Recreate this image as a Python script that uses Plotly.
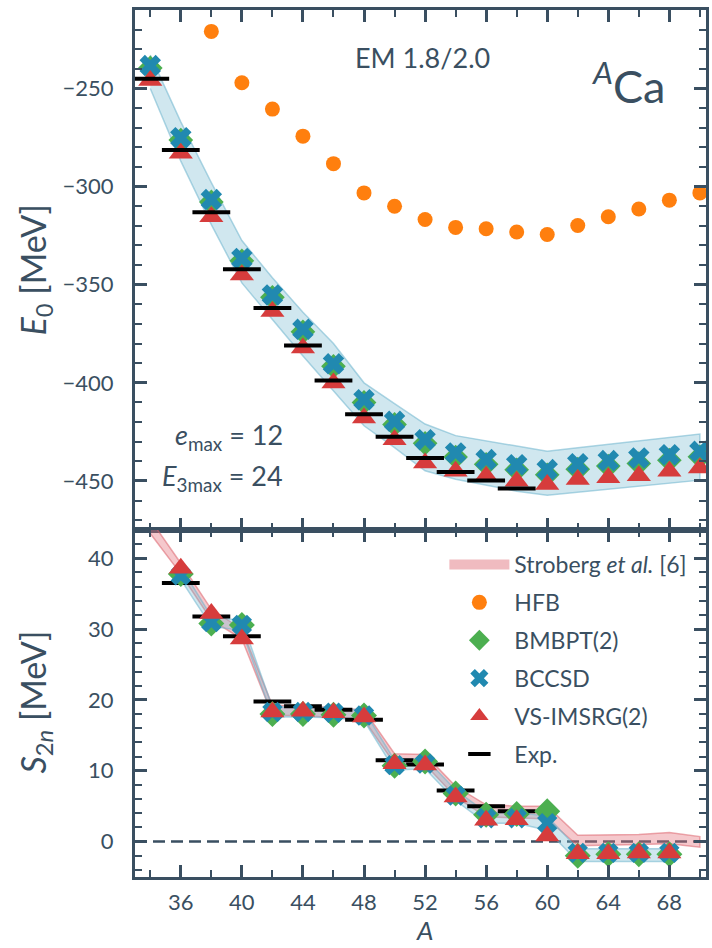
import plotly.graph_objects as go

# ---------------- data ----------------
A_top = [34, 36, 38, 40, 42, 44, 46, 48, 50, 52, 54, 56, 58, 60, 62, 64, 66, 68, 70]
E_bccsd = [-238.3, -275.1, -306.6, -336.6, -355.2, -372.7, -390.3, -408.6, -419.6, -429.0,
           -435.7, -439.1, -441.7, -444.2, -441.2, -439.6, -438.3, -436.6, -434.9]
E_bmbpt = [-239.5, -276.3, -307.8, -337.8, -356.4, -374.0, -391.6, -410.0, -421.2, -430.8,
           -437.8, -441.5, -444.3, -446.9, -444.0, -442.4, -441.1, -439.4, -437.7]
E_vsimsrg = [-245.9, -283.0, -315.4, -345.1, -363.7, -382.3, -400.1, -417.9, -429.0, -440.8,
             -445.1, -447.6, -450.2, -451.8, -449.3, -448.4, -447.3, -445.1, -443.4]
E_band_up = [-233.0, -267.0, -298.0, -327.5, -346.5, -364.0, -380.0, -400.0, -410.6, -421.0,
             -426.9, -429.6, -432.3, -434.9, -433.1, -431.4, -429.6, -427.9, -426.1]
E_band_lo = [-250.0, -287.0, -319.4, -349.1, -367.7, -386.3, -404.1, -421.9, -433.0, -444.8,
             -449.1, -452.3, -455.2, -457.3, -455.8, -454.2, -452.7, -451.1, -449.6]

A_exp_top = [34, 36, 38, 40, 42, 44, 46, 48, 50, 52, 54, 56, 58]
E_exp = [-245.0, -281.4, -313.1, -342.1, -361.9, -381.0, -398.8, -416.0, -427.5, -438.3,
         -445.4, -449.8, -453.9]

A_hfb = [38, 40, 42, 44, 46, 48, 50, 52, 54, 56, 58, 60, 62, 64, 66, 68, 70]
E_hfb = [-220.9, -247.1, -260.5, -274.3, -288.3, -303.2, -310.0, -316.8, -320.8, -321.5,
         -323.1, -324.4, -319.8, -315.4, -311.4, -306.9, -303.2]

A_bot = [36, 38, 40, 42, 44, 46, 48, 50, 52, 54, 56, 58, 60, 62, 64, 66, 68]
S_bccsd = [37.6, 31.0, 30.6, 18.3, 18.3, 18.2, 17.8, 10.8, 11.0, 6.5, 3.3, 3.3, 2.6, -1.6, -1.6, -1.6, -1.6]
S_bmbpt = [37.8, 30.8, 30.6, 18.0, 18.0, 17.9, 17.8, 10.7, 11.3, 6.8, 3.8, 3.9, 4.3, -2.0, -1.8, -1.8, -1.8]
S_vsimsrg = [38.6, 32.2, 28.6, 18.3, 18.4, 18.2, 17.6, 11.0, 10.8, 6.3, 3.0, 3.1, 0.8, -1.7, -1.7, -1.6, -1.6]
S_band_up = [38.8, 31.8, 31.2, 19.0, 19.0, 18.9, 18.5, 11.5, 11.8, 7.3, 4.1, 4.1, 3.6, -1.0, -1.0, -1.0, -1.0]
S_band_lo = [37.0, 30.4, 29.8, 17.6, 17.6, 17.5, 17.1, 10.1, 10.3, 5.8, 2.6, 2.6, 1.6, -2.8, -2.8, -2.8, -2.8]

A_exp_bot = [36, 38, 40, 42, 44, 46, 48, 50, 52, 54, 56, 58]
S_exp = [36.5, 31.8, 29.0, 19.8, 19.1, 18.6, 17.2, 11.5, 10.9, 7.2, 5.0, 4.3]

A_strob = [34, 36, 38, 40, 42, 44, 46, 48, 50, 52, 54, 56, 58, 60, 62, 64, 66, 68, 70]
S_strob_up = [45.5, 39.3, 32.8, 30.0, 19.2, 19.2, 18.9, 18.6, 12.4, 12.3, 7.8, 5.2, 5.0, 5.0,
              0.9, 0.9, 1.0, 1.3, 0.7]
S_strob_lo = [43.5, 37.8, 31.3, 28.6, 17.8, 17.8, 17.5, 17.2, 11.0, 10.9, 6.3, 3.5, 3.4, 3.2,
              -0.6, -0.5, -0.4, -0.3, -0.8]

x_ticks = [36, 40, 44, 48, 52, 56, 60, 64, 68]

# ---------------- style ----------------
AX = "#3a4f61"
ORANGE = "#ff7f0e"
GREEN = "#4caf50"
BLUE = "#2189b0"
RED = "#d63c3c"
BAND_BLUE_FILL = "rgba(120,185,210,0.35)"
BAND_BLUE_LINE = "rgba(110,180,205,0.55)"
PINK_FILL = "rgba(228,110,120,0.38)"
PINK_LINE = "rgba(220,100,110,0.55)"
FONT = "Lato"

W, H = 712, 948
L, R, T, B = 135, 3, 10, 71
PW, PH = W - L - R, H - T - B
split = (877 - 530) / PH


def px(x):
    return (x - L) / PW


def py(y):
    return 1 - (y - T) / PH


fig = go.Figure()

# ---------- top panel ----------
fig.add_trace(go.Scatter(
    x=A_top + A_top[::-1], y=E_band_up + E_band_lo[::-1], fill="toself",
    fillcolor=BAND_BLUE_FILL, line=dict(color=BAND_BLUE_LINE, width=1.5),
    mode="lines", showlegend=False, hoverinfo="skip", xaxis="x", yaxis="y"))
fig.add_trace(go.Scatter(
    x=A_hfb, y=E_hfb, mode="markers", name="HFB",
    marker=dict(symbol="circle", size=15, color=ORANGE),
    legendgroup="b", legendrank=2, xaxis="x", yaxis="y"))
fig.add_trace(go.Scatter(
    x=A_top, y=E_bmbpt, mode="markers", showlegend=False,
    marker=dict(symbol="diamond", size=19, color=GREEN), xaxis="x", yaxis="y"))
fig.add_trace(go.Scatter(
    x=A_top, y=E_bccsd, mode="markers", showlegend=False,
    marker=dict(symbol="x", size=19, color=BLUE), xaxis="x", yaxis="y"))
fig.add_trace(go.Scatter(
    x=A_top, y=E_vsimsrg, mode="markers", showlegend=False,
    marker=dict(symbol="triangle-up", size=21, color=RED), xaxis="x", yaxis="y"))
fig.add_trace(go.Scatter(
    x=A_exp_top, y=E_exp, mode="markers", showlegend=False,
    marker=dict(symbol="line-ew", size=27, line=dict(width=4, color="black")),
    xaxis="x", yaxis="y"))

# ---------- bottom panel ----------
fig.add_trace(go.Scatter(
    x=A_strob + A_strob[::-1], y=S_strob_up + S_strob_lo[::-1], fill="toself",
    fillcolor=PINK_FILL, line=dict(color=PINK_LINE, width=1.5), mode="lines",
    showlegend=False, legendgroup="a", hoverinfo="skip", xaxis="x2", yaxis="y2"))
# legend key for the Stroberg band (drawn as a wide swatch)
fig.add_trace(go.Scatter(
    x=[None], y=[None], mode="lines", name="Stroberg <i>et al.</i> [6]",
    line=dict(color="rgba(226,120,130,0.5)", width=16),
    legendgroup="a", legendrank=1, xaxis="x2", yaxis="y2"))
fig.add_trace(go.Scatter(
    x=A_bot + A_bot[::-1], y=S_band_up + S_band_lo[::-1], fill="toself",
    fillcolor=BAND_BLUE_FILL, line=dict(color=BAND_BLUE_LINE, width=1.5),
    mode="lines", showlegend=False, hoverinfo="skip", xaxis="x2", yaxis="y2"))
fig.add_trace(go.Scatter(
    x=A_exp_bot, y=S_exp, mode="markers", name="Exp.",
    marker=dict(symbol="line-ew", size=27, line=dict(width=4, color="black")),
    legendgroup="f", legendrank=6, xaxis="x2", yaxis="y2"))
fig.add_trace(go.Scatter(
    x=A_bot, y=S_bmbpt, mode="markers", name="BMBPT(2)",
    marker=dict(symbol="diamond", size=20, color=GREEN),
    legendgroup="c", legendrank=3, xaxis="x2", yaxis="y2"))
fig.add_trace(go.Scatter(
    x=A_bot, y=S_bccsd, mode="markers", name="BCCSD",
    marker=dict(symbol="x", size=18, color=BLUE),
    legendgroup="d", legendrank=4, xaxis="x2", yaxis="y2"))
fig.add_trace(go.Scatter(
    x=A_bot, y=S_vsimsrg, mode="markers", name="VS-IMSRG(2)",
    marker=dict(symbol="triangle-up", size=21, color=RED),
    legendgroup="e", legendrank=5, xaxis="x2", yaxis="y2"))

common_axis = dict(
    showline=True, linecolor=AX, linewidth=3, mirror="allticks",
    ticks="inside", tickcolor=AX, tickwidth=2.5, showgrid=False, zeroline=False,
    tickfont=dict(family=FONT, size=22, color=AX),
)

fig.update_layout(
    width=W, height=H,
    margin=dict(l=L, r=R, t=T, b=B),
    paper_bgcolor="white", plot_bgcolor="white",
    font=dict(family=FONT, color=AX),
    xaxis=dict(common_axis, domain=[0, 1], anchor="y", range=[33, 70.4], matches="x2",
               tickvals=x_ticks, showticklabels=False, ticklen=12,
               minor=dict(ticks="inside", dtick=2, tick0=34, ticklen=7, tickwidth=2, tickcolor=AX)),
    xaxis2=dict(common_axis, domain=[0, 1], anchor="y2", range=[33, 70.4],
                tickvals=x_ticks, ticklen=12, ticklabelstandoff=4,
                minor=dict(ticks="inside", dtick=2, tick0=34, ticklen=7, tickwidth=2, tickcolor=AX)),
    yaxis=dict(common_axis, domain=[split, 1], anchor="x", range=[-475, -210],
               tickvals=[-250, -300, -350, -400, -450], ticklen=12, ticklabelstandoff=14,
               minor=dict(ticks="inside", dtick=10, tick0=0, ticklen=7, tickwidth=2, tickcolor=AX)),
    yaxis2=dict(common_axis, domain=[0, split], anchor="x2", range=[-5, 44],
                tickvals=[0, 10, 20, 30, 40], ticklen=12, ticklabelstandoff=14,
                minor=dict(ticks="inside", dtick=2, tick0=0, ticklen=7, tickwidth=2, tickcolor=AX)),
    legend=dict(
        x=px(446), y=py(543), xanchor="left", yanchor="top",
        bgcolor="rgba(0,0,0,0)", borderwidth=0, itemwidth=60,
        font=dict(family=FONT, size=23, color=AX),
        traceorder="grouped", tracegroupgap=5, itemsizing="trace",
    ),
    shapes=[dict(type="line", xref="x2 domain", yref="y2", x0=0, x1=1, y0=0, y1=0,
                 line=dict(color=AX, width=2.5, dash="12px,6px"), layer="below")],
)

ann = [
    dict(text="EM 1.8/2.0", x=px(424), y=py(58), size=27),
    dict(text="<sup><i>A</i></sup>Ca", x=px(631), y=py(83), size=45),
    dict(text="<i>e</i><sub>max</sub> = 12", x=px(286), y=py(437), size=27, xanchor="right"),
    dict(text="<i>E</i><sub>3max</sub> = 24", x=px(286), y=py(477), size=27, xanchor="right"),
    dict(text="<i>E</i><sub>0</sub> [MeV]", x=px(34), y=py(270), size=34, angle=-90),
    dict(text="<i>S</i><sub>2<i>n</i></sub> [MeV]", x=px(34), y=py(702), size=34, angle=-90),
]
for a in ann:
    fig.add_annotation(
        text=a["text"], x=a["x"], y=a["y"], xref="paper", yref="paper",
        xanchor=a.get("xanchor", "center"), yanchor="middle", showarrow=False,
        textangle=a.get("angle", 0),
        font=dict(family=FONT, size=a["size"], color=AX))

fig.add_annotation(
    text="<i>A</i>", x=px(426), y=py(948), xref="paper", yref="paper",
    xanchor="center", yanchor="bottom", showarrow=False,
    font=dict(family=FONT, size=26, color=AX))

fig.write_html("out.html")
